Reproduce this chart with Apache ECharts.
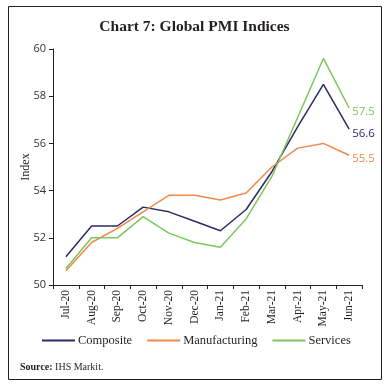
<!DOCTYPE html>
<html><head><meta charset="utf-8">
<script src="https://cdn.jsdelivr.net/npm/echarts@6/dist/echarts.min.js"></script>
<style>html,body{margin:0;padding:0;background:#fff}#c{width:389px;height:387px}</style>
</head><body><div id="c"></div>
<script>
var categories = ['Jul-20','Aug-20','Sep-20','Oct-20','Nov-20','Dec-20','Jan-21','Feb-21','Mar-21','Apr-21','May-21','Jun-21'];
var composite = [51.2, 52.5, 52.5, 53.3, 53.1, 52.7, 52.3, 53.2, 54.8, 56.7, 58.5, 56.6];
var manufacturing = [50.6, 51.8, 52.4, 53.1, 53.8, 53.8, 53.6, 53.9, 55.0, 55.8, 56.0, 55.5];
var services = [50.7, 52.0, 52.0, 52.9, 52.2, 51.8, 51.6, 52.8, 54.6, 57.1, 59.6, 57.5];
var yTicks = [50, 52, 54, 56, 58, 60];

var serif = '"Liberation Serif", "DejaVu Serif", serif';
var sans = '"Open Sans", "Noto Sans", sans-serif';
var chart = echarts.init(document.getElementById('c'));
function mkSeries(name, data, color) {
  return {
    name: name, type: 'line', data: data, symbol: 'none',
    lineStyle: {color: color, width: 1.5}, itemStyle: {color: color},
    label: {show: false},
    endLabel: {show: true, color: color, fontFamily: sans, fontSize: 11.5,
      formatter: function (p) { return p.value.toFixed(1); }, offset: [0, 4], distance: 3},
    animation: false
  };
}
chart.setOption({
  animation: false,
  title: {text: 'Chart 7: Global PMI Indices', left: 'center', top: 14,
    textStyle: {fontFamily: serif, fontWeight: 'bold', fontSize: 15.5, color: '#231f20'}},
  graphic: [
    {type: 'rect', shape: {x: 8.5, y: 6.5, width: 373, height: 373},
     style: {fill: 'none', stroke: '#231f20', lineWidth: 1}, silent: true},
    {type: 'text', left: 20, top: 362, style: {text: '{b|Source:} IHS Markit.',
      rich: {b: {fontWeight: 'bold', fontFamily: serif, fontSize: 10, fill: '#231f20'}},
      fontFamily: serif, fontSize: 10, fill: '#231f20'}}
  ],
  legend: {
    bottom: 35, left: 37, itemGap: 15, itemWidth: 33, itemHeight: 2, icon: 'rect',
    textStyle: {fontFamily: serif, fontSize: 12.5, color: '#231f20', padding: [0, 0, 0, -2]},
    data: ['Composite', 'Manufacturing', 'Services']
  },
  grid: {left: 53, right: 27, top: 49, bottom: 102},
  xAxis: {
    type: 'category', data: categories, boundaryGap: true,
    axisLine: {lineStyle: {color: '#231f20', width: 1}},
    axisTick: {show: true, length: 4, lineStyle: {color: '#231f20'}},
    axisLabel: {rotate: 90, fontFamily: serif, fontSize: 11.5, color: '#231f20', margin: 5, interval: 0}
  },
  yAxis: {
    type: 'value', min: 50, max: 60, interval: 2,
    name: 'Index', nameLocation: 'middle', nameGap: 21, nameRotate: 90, nameMoveOverlap: false,
    nameTextStyle: {fontFamily: serif, fontSize: 12, color: '#231f20'},
    axisLine: {show: true, lineStyle: {color: '#231f20', width: 1}},
    axisTick: {show: true, length: 4, lineStyle: {color: '#231f20'}},
    splitLine: {show: false},
    axisLabel: {fontFamily: sans, fontSize: 11, color: '#333', margin: 7,
      formatter: function (v) { return yTicks.indexOf(v) >= 0 ? String(v) : ''; }}
  },
  series: [
    mkSeries('Composite', composite, '#2d2a66'),
    mkSeries('Manufacturing', manufacturing, '#f2874a'),
    mkSeries('Services', services, '#7cc65c')
  ]
});
</script></body></html>
